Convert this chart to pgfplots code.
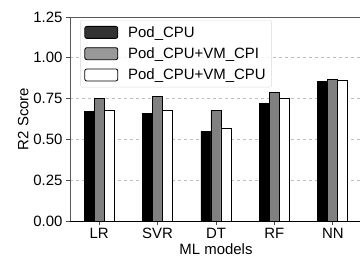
\documentclass[border=0pt]{standalone}
\usepackage{pgfplots}
\pgfplotsset{compat=1.18}
\usepackage{fontspec}
\setmainfont{Liberation Sans}
\definecolor{bargray}{HTML}{808080}
\begin{document}
\begin{tikzpicture}[font=\fontsize{15}{18}\selectfont]
\useasboundingbox (-70bp,-40bp) rectangle (290bp,221bp);
\begin{axis}[
  at={(0,0)}, anchor=south west,
  scale only axis, width=292bp, height=204bp,
  xmin=-0.5, xmax=4.5, ymin=0, ymax=1.25,
  xtick={0,1,2,3,4}, xticklabels={LR,SVR,DT,RF,NN},
  ytick={0,0.25,0.5,0.75,1,1.25},
  yticklabel style={/pgf/number format/fixed,/pgf/number format/fixed zerofill,/pgf/number format/precision=2},
  /pgf/number format/assume math mode=true,
  tick label style={font=\fontsize{15}{18}\selectfont},
  label style={font=\fontsize{15}{18}\selectfont},
  tick align=outside, major tick length=4bp,
  tick style={black!70, line width=0.8pt},
  xtick pos=bottom, ytick pos=left,
  ymajorgrids, grid style={dashed, gray!50, line width=0.6pt},
  axis line style={black!65, line width=0.9pt},
  ylabel={R2 Score}, xlabel={ML models},
  ylabel style={yshift=-2bp},
  xlabel style={yshift=2bp},
  ybar=0pt, bar width=10bp,
  legend style={at={(0.035,0.985)}, anchor=north west, draw=black!15, rounded corners=2pt, fill=white, fill opacity=0.8, text opacity=1, row sep=5pt, inner xsep=4pt, inner ysep=4pt, font=\fontsize{15}{18}\selectfont},
  legend cell align=left,
  legend image code/.code={\draw[#1, line width=0.8pt] (0bp,-6bp) rectangle (33bp,6bp); \path (41bp,0);},
]
\addplot[fill=black, draw=black, line width=0.8pt] coordinates {(0,0.67) (1,0.66) (2,0.55) (3,0.72) (4,0.853)};
\addplot[fill=bargray, draw=black, line width=0.8pt] coordinates {(0,0.75) (1,0.762) (2,0.68) (3,0.79) (4,0.868)};
\addplot[fill=white, draw=black, line width=0.8pt] coordinates {(0,0.68) (1,0.68) (2,0.57) (3,0.75) (4,0.86)};
\legend{Pod\_CPU, Pod\_CPU+VM\_CPI, Pod\_CPU+VM\_CPU}
\end{axis}
\draw[black, line width=0.9pt] (0,0) -- (292bp,0);
\end{tikzpicture}
\end{document}
